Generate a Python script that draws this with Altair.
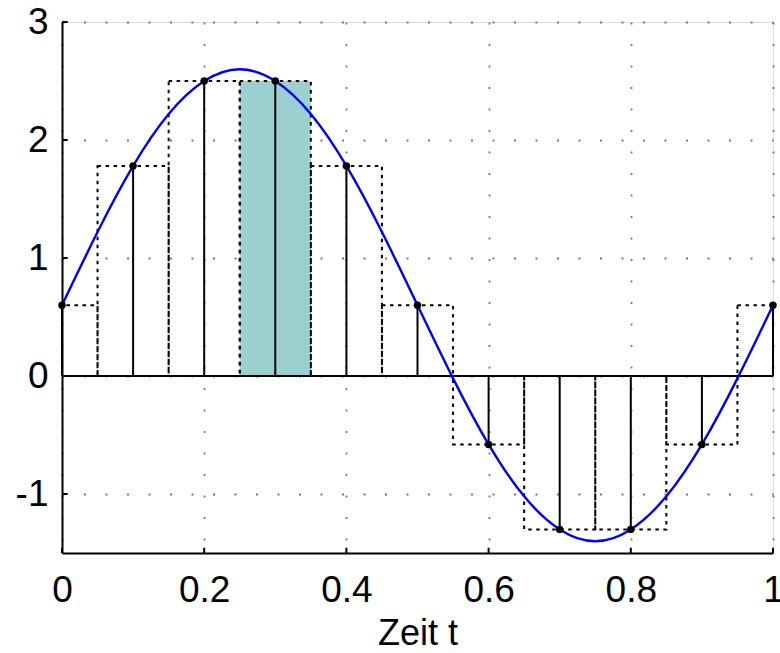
import altair as alt
import pandas as pd

t_samples = [0.0, 0.1, 0.2, 0.3, 0.4, 0.5, 0.6, 0.7, 0.8, 0.9, 1.0]
v_samples = [0.60, 1.78, 2.50, 2.50, 1.78, 0.60, -0.58, -1.30, -1.30, -0.58, 0.60]

# Continuous signal, read at 0.05 steps
t_curve = [0.0, 0.05, 0.1, 0.15, 0.2, 0.25, 0.3, 0.35, 0.4, 0.45, 0.5,
           0.55, 0.6, 0.65, 0.7, 0.75, 0.8, 0.85, 0.9, 0.95, 1.0]
v_curve = [0.60, 1.22, 1.78, 2.22, 2.50, 2.60, 2.50, 2.22, 1.78, 1.22, 0.60,
           -0.02, -0.58, -1.02, -1.30, -1.40, -1.30, -1.02, -0.58, -0.02, 0.60]

highlight_t = [0.3]
hold_width = 0.1

x_ticks = [0, 0.2, 0.4, 0.6, 0.8, 1]
y_ticks = [-1, 0, 1, 2, 3]

X_MIN, X_MAX = 0, 1
Y_MIN, Y_MAX = -1.5, 3

samples = pd.DataFrame({"t": t_samples, "v": v_samples})
curve = pd.DataFrame({"t": t_curve, "v": v_curve})
hl = samples[samples["t"].isin(highlight_t)]
xt = pd.DataFrame({"t": x_ticks})
yt = pd.DataFrame({"v": y_ticks})

FONT = "Liberation Sans"
W, H = 711, 531

xs = alt.Scale(domain=[X_MIN, X_MAX], nice=False, zero=False)
ys = alt.Scale(domain=[Y_MIN, Y_MAX], nice=False, zero=False)

grid_dash = [2, 19.5]

x_axis = alt.Axis(values=x_ticks, title="Zeit t", grid=True, gridDash=grid_dash,
                  gridColor="#777777", gridWidth=1.8, domainColor="black", domainWidth=2,
                  ticks=False, labelFont=FONT, labelFontSize=37, labelColor="black",
                  labelPadding=19, titleFont=FONT, titleFontSize=36, titleFontWeight="normal",
                  titleColor="black", titlePadding=8, labelFlush=False,
                  labelExpr="'' + datum.value")
y_axis = alt.Axis(values=y_ticks, title=None, grid=True, gridDash=grid_dash,
                  gridColor="#777777", gridWidth=1.8, domainColor="black", domainWidth=2,
                  ticks=False, labelFont=FONT, labelFontSize=37, labelColor="black",
                  labelPadding=14, labelFlush=False, labelExpr="'' + datum.value")

teal = alt.Chart(hl).mark_rect(color="#9ccfcf", opacity=1).transform_calculate(
    lo=f"datum.t - {hold_width/2}", hi=f"datum.t + {hold_width/2}"
).encode(
    x=alt.X("lo:Q", scale=xs, axis=x_axis),
    x2="hi:Q",
    y=alt.Y("v:Q", scale=ys, axis=y_axis),
    y2=alt.datum(0),
)

holds = alt.Chart(samples).mark_rect(fill=None, filled=False, stroke="black", strokeWidth=2,
                                     strokeDash=[3.5, 4.5], clip=True).transform_calculate(
    lo=f"datum.t - {hold_width/2}", hi=f"datum.t + {hold_width/2}"
).encode(
    x=alt.X("lo:Q", scale=xs),
    x2="hi:Q",
    y=alt.Y("v:Q", scale=ys),
    y2=alt.datum(0),
)

zero_line = alt.Chart(pd.DataFrame({"a": [X_MIN], "b": [X_MAX], "z": [0]})).mark_rule(
    color="black", strokeWidth=2
).encode(
    x=alt.X("a:Q", scale=xs), x2="b:Q", y=alt.Y("z:Q", scale=ys)
)

stems = alt.Chart(samples).mark_rule(color="black", strokeWidth=2).encode(
    x=alt.X("t:Q", scale=xs),
    y=alt.Y("v:Q", scale=ys),
    y2=alt.datum(0),
)

line = alt.Chart(curve).mark_line(color="#0000ff", strokeWidth=2.4, interpolate="natural").encode(
    x=alt.X("t:Q", scale=xs),
    y=alt.Y("v:Q", scale=ys),
)

dots = alt.Chart(samples).mark_circle(color="black", size=55, opacity=1).encode(
    x=alt.X("t:Q", scale=xs),
    y=alt.Y("v:Q", scale=ys),
)

# inward-pointing axis ticks
x_tick_marks = alt.Chart(xt).mark_rule(color="black", strokeWidth=2).encode(
    x=alt.X("t:Q", scale=xs),
    y=alt.datum(Y_MIN),
    y2=alt.datum(Y_MIN + 0.045),
)
y_tick_marks = alt.Chart(yt).mark_rule(color="black", strokeWidth=2).encode(
    y=alt.Y("v:Q", scale=ys),
    x=alt.datum(X_MIN),
    x2=alt.datum(X_MIN + 0.008),
)

chart = alt.layer(teal, holds, zero_line, stems, line, dots, x_tick_marks, y_tick_marks).properties(
    width=W, height=H,
    autosize=alt.AutoSizeParams(type="none"),
    padding={"left": 62, "top": 22, "right": 7, "bottom": 100},
).configure_view(stroke=None).configure(background="white")

chart.save("out.html", embed_options={"renderer": "svg", "actions": False})
